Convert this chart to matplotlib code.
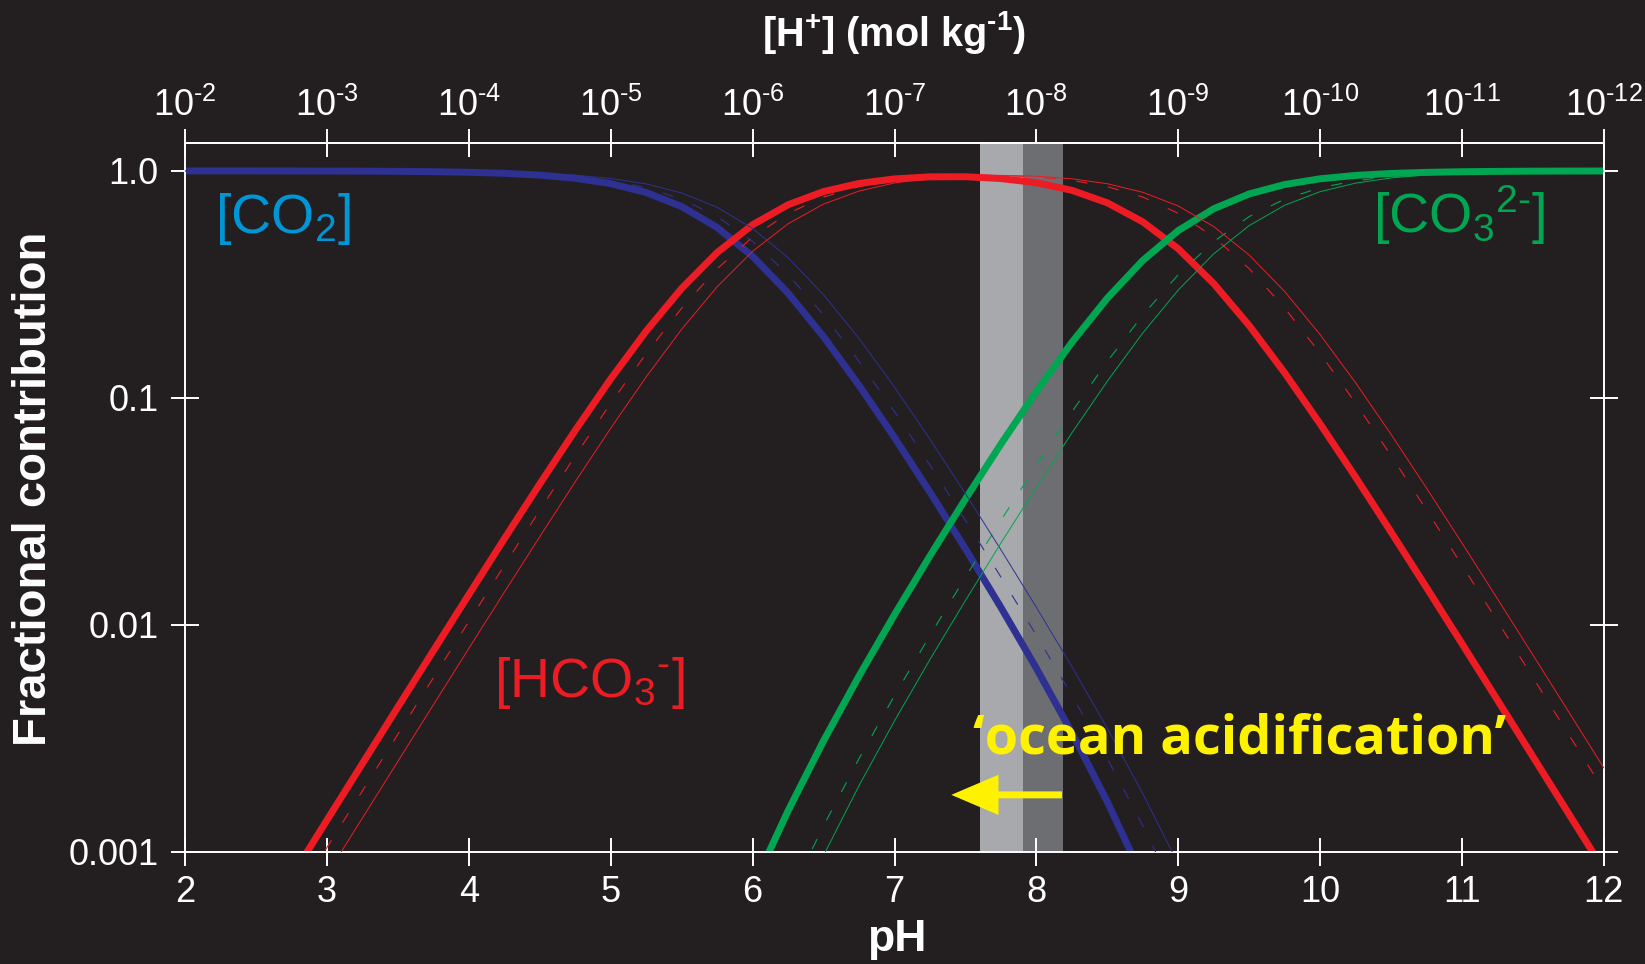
import matplotlib
matplotlib.use('Agg')
import matplotlib.pyplot as plt
from matplotlib.ticker import NullLocator

bg = '#231f20'
plt.rcParams['font.family'] = ['Liberation Sans', 'DejaVu Sans']
plt.rcParams['mathtext.fontset'] = 'custom'
plt.rcParams['mathtext.rm'] = 'Liberation Sans'
plt.rcParams['mathtext.it'] = 'Liberation Sans:italic'
plt.rcParams['mathtext.bf'] = 'Liberation Sans:bold'
plt.rcParams['mathtext.default'] = 'regular'
plt.rcParams['lines.scale_dashes'] = False

# pH sample points
ph = [2.0, 2.25, 2.5, 2.75, 3.0, 3.25, 3.5, 3.75, 4.0, 4.25, 4.5, 4.75,
      5.0, 5.25, 5.5, 5.75, 6.0, 6.25, 6.5, 6.75, 7.0, 7.25, 7.5, 7.75,
      8.0, 8.25, 8.5, 8.75, 9.0, 9.25, 9.5, 9.75, 10.0, 10.25, 10.5, 10.75,
      11.0, 11.25, 11.5, 11.75, 12.0]
ph_co2 = ph[:29]    # 2.0 .. 9.0
ph_hco3 = ph[3:]    # 2.75 .. 12.0
ph_co3 = ph[16:]    # 6.0 .. 12.0

# thick curves
co2_thick = [1.000, 1.000, 1.000, 0.999, 0.9986, 0.9976, 0.9957, 0.9923, 0.9864,
             0.9760, 0.9582, 0.9280, 0.8787, 0.8029, 0.6961, 0.5628, 0.4199,
             0.2890, 0.1858, 0.1134, 0.06682, 0.03835, 0.02159, 0.01192,
             0.006427, 0.003345, 0.001657, 0.000768, 0.000329]
hco3_thick = [0.000776, 0.00138, 0.00245, 0.00435, 0.00770, 0.01361, 0.02396,
              0.04182, 0.07203, 0.1213, 0.1971, 0.3039, 0.4369, 0.5794, 0.7095,
              0.8111, 0.8806, 0.9221, 0.9415, 0.9426, 0.9255, 0.8869, 0.8211,
              0.7233, 0.5962, 0.4538, 0.3187, 0.2082, 0.1288, 0.07675, 0.04469,
              0.02563, 0.01458, 0.008251, 0.004656, 0.002623, 0.001477, 0.000831]
co3_thick = [0.000697, 0.001517, 0.003085, 0.005954, 0.01109, 0.02013, 0.03585,
             0.06257, 0.1067, 0.1755, 0.2751, 0.4031, 0.5459, 0.6812, 0.7918,
             0.8711, 0.9232, 0.9553, 0.9744, 0.9854, 0.9917, 0.9953, 0.9974,
             0.9985, 0.9992]

# dashed curves
co2_dash = [1.000, 1.000, 1.000, 0.9994, 0.9990, 0.9981, 0.9967, 0.9941, 0.9896,
            0.9817, 0.9680, 0.9444, 0.9052, 0.8430, 0.7513, 0.6293, 0.4884,
            0.3492, 0.2317, 0.1448, 0.08676, 0.05051, 0.02884, 0.01622,
            0.008983, 0.004879, 0.002575, 0.001303, 0.000621]
hco3_dash = [0.000589, 0.001046, 0.001859, 0.003300, 0.005854, 0.01036, 0.01828,
             0.03205, 0.05561, 0.09478, 0.1570, 0.2487, 0.3705, 0.5113, 0.6502,
             0.7670, 0.8526, 0.9084, 0.9405, 0.9549, 0.9549, 0.9405, 0.9084,
             0.8526, 0.7671, 0.6502, 0.5113, 0.3706, 0.2488, 0.1570, 0.09479,
             0.05562, 0.03205, 0.01828, 0.01036, 0.005855, 0.003300, 0.001859]
co3_dash = [0.000275, 0.000621, 0.001303, 0.002575, 0.004879, 0.008981, 0.01622,
            0.02884, 0.05051, 0.08674, 0.1448, 0.2316, 0.3492, 0.4885, 0.6293,
            0.7512, 0.8430, 0.9052, 0.9444, 0.9679, 0.9817, 0.9896, 0.9941,
            0.9967, 0.9981]

# thin curves
co2_thin = [1.000, 1.000, 1.000, 0.9996, 0.9992, 0.9986, 0.9975, 0.9956, 0.9921,
            0.9861, 0.9755, 0.9572, 0.9264, 0.8762, 0.7992, 0.6912, 0.5572,
            0.4142, 0.2845, 0.1826, 0.1114, 0.06563, 0.03779, 0.02139,
            0.01193, 0.006535, 0.003496, 0.001802, 0.000882]
hco3_thin = [0.000447, 0.000794, 0.001411, 0.002506, 0.004447, 0.007880, 0.01393,
             0.02450, 0.04276, 0.07359, 0.1238, 0.2008, 0.3088, 0.4426, 0.5853,
             0.7146, 0.8155, 0.8848, 0.9274, 0.9494, 0.9557, 0.9477, 0.9234,
             0.8781, 0.8050, 0.7004, 0.5684, 0.4257, 0.2942, 0.1899, 0.1165,
             0.06901, 0.04002, 0.02290, 0.01301, 0.007358, 0.004151, 0.002339]
co3_thin = [0.000189, 0.000444, 0.000964, 0.001957, 0.003774, 0.007036, 0.01280,
            0.02293, 0.04042, 0.07006, 0.1184, 0.1932, 0.2987, 0.4312, 0.5742,
            0.7058, 0.8101, 0.8835, 0.9310, 0.9600, 0.9771, 0.9870, 0.9926,
            0.9958, 0.9977]

# shaded pH ranges
band_lo = [7.60, 7.905]
band_hi = [7.905, 8.19]
band_colors = ['#a7a9ac', '#6d6e71']

arrow_ph = [8.18, 7.40]
arrow_y = 0.00178

ph_ticks = [2, 3, 4, 5, 6, 7, 8, 9, 10, 11, 12]
h_labels = ['10$^{\u2010%d}$' % t for t in ph_ticks]
y_ticks = [1.0, 0.1, 0.01, 0.001]
y_labels = ['1.0', '0.1', '0.01', '0.001']

blue = '#2e3192'
red = '#ed1c24'
green = '#00a651'
yellow = '#fff200'

fig = plt.figure(figsize=(16.45, 9.64), dpi=100, facecolor=bg)
ax = fig.add_axes([0.1126, 0.1165, 0.8624, 0.7349], facecolor=bg)
ax.set_yscale('log')
ax.set_xlim(2, 12)
ax.set_ylim(0.001, 1.324)

for lo, hi, c in zip(band_lo, band_hi, band_colors):
    ax.axvspan(lo, hi, color=c, lw=0, zorder=1)

for x, y, c in [(ph_co2, co2_thick, blue), (ph_hco3, hco3_thick, red), (ph_co3, co3_thick, green)]:
    ax.plot(x, y, color=c, lw=5, solid_capstyle='butt', solid_joinstyle='round', zorder=2)
for x, y, c in [(ph_co2, co2_dash, blue), (ph_hco3, hco3_dash, red), (ph_co3, co3_dash, green)]:
    ax.plot(x, y, color=c, lw=0.8, dashes=(8, 15), zorder=3)
for x, y, c in [(ph_co2, co2_thin, blue), (ph_hco3, hco3_thin, red), (ph_co3, co3_thin, green)]:
    ax.plot(x, y, color=c, lw=0.7, solid_joinstyle='round', zorder=4)

ax.set_xticks(ph_ticks)
ax.set_xticklabels([str(t) for t in ph_ticks])
ax.set_yticks(y_ticks)
ax.set_yticklabels(y_labels)
ax.yaxis.set_minor_locator(NullLocator())
ax.tick_params(axis='both', direction='inout', length=20, width=1.4,
               colors='white', labelsize=26)
ax.tick_params(axis='y', right=True, pad=9)
ax.tick_params(axis='x', pad=7)
for s in ax.spines.values():
    s.set_color('white')
    s.set_linewidth(1.4)

top = ax.secondary_xaxis('top')
top.set_xticks(ph_ticks)
top.set_xticklabels(h_labels)
top.tick_params(direction='inout', length=20, width=1.4, colors='white',
                labelsize=26, pad=4)
top.spines['top'].set_color('white')
top.spines['top'].set_linewidth(1.4)

# species labels
ax.text(2.21, 0.533, '[CO$_2$]', color='#0096d6', fontsize=40, va='baseline', zorder=5)
ax.text(4.18, 0.00482, '[HCO$_3$$^{\u2010}$]', color=red, fontsize=40, va='baseline', zorder=5)
ax.text(10.37, 0.533, '[CO$_3$$^{2\u2010}$]', color=green, fontsize=40, va='baseline', zorder=5)

ax.text(9.43, 0.0027, '\u2018ocean acidification\u2019', color=yellow, fontsize=39,
        fontweight='bold', family=['Open Sans', 'DejaVu Sans'],
        ha='center', va='baseline', zorder=6)
ax.annotate('', xy=(arrow_ph[1], arrow_y), xytext=(arrow_ph[0], arrow_y),
            arrowprops=dict(facecolor=yellow, edgecolor='none', width=5,
                            headwidth=29, headlength=34, shrink=0),
            zorder=6)

fig.text(0.0204, 0.4927, 'Fractional contribution', rotation=90, color='white',
         fontsize=34, fontweight='bold', ha='center', va='center')
fig.text(0.5453, 0.025, 'pH', color='white', fontsize=32, fontweight='bold',
         ha='center', va='center')
fig.text(0.5435, 0.966, '[H$^{\\mathbf{+}}$] (mol kg$^{\\mathbf{\u20101}}$)', color='white',
         fontsize=28.5, fontweight='bold', ha='center', va='center')

fig.savefig('out.png', dpi=100, facecolor=bg)
